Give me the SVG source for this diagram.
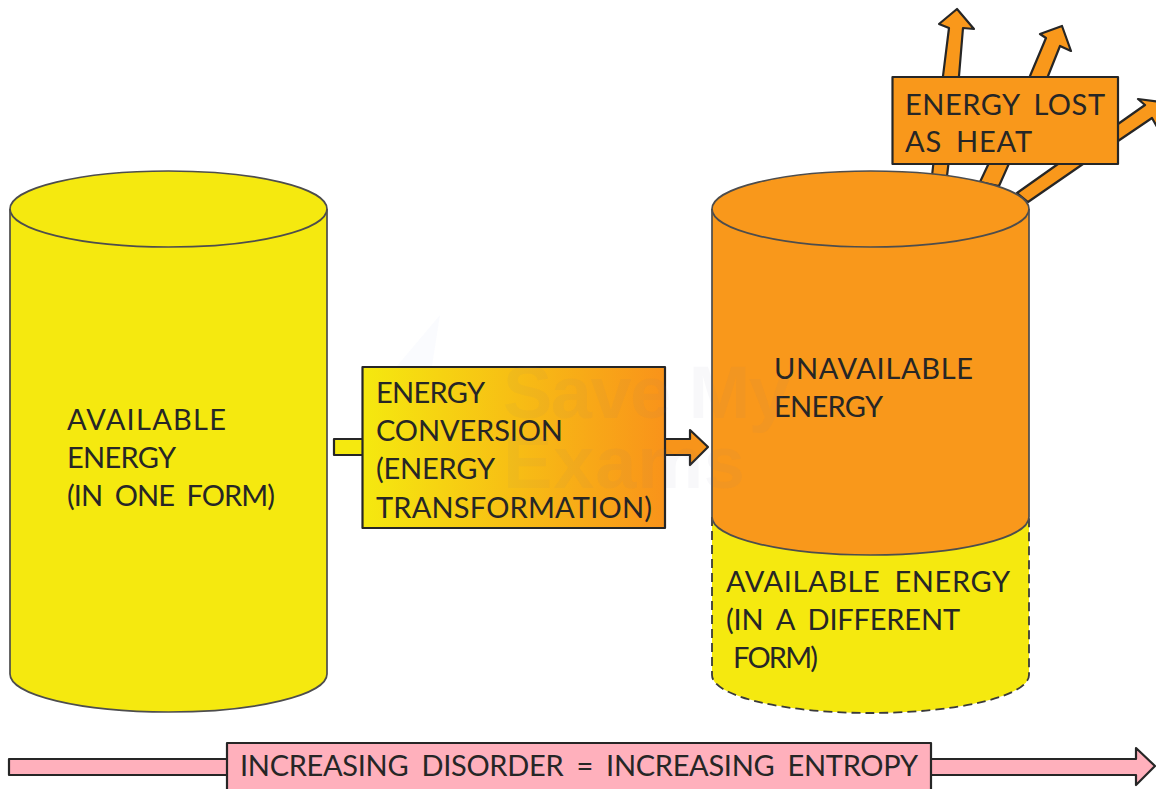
<svg xmlns="http://www.w3.org/2000/svg" width="1156" height="789" viewBox="0 0 1156 789">
<style>
.o{stroke:#262626;stroke-width:2.200;stroke-linejoin:round}
.c{stroke:#4d4d4d;stroke-width:1.700;stroke-linejoin:round}
.y{fill:#f5e90f}
.or{fill:#f9981b}
.p{fill:#ffb0bc}
.t{font-family:Lato,"Liberation Sans",sans-serif;font-size:29px;fill:#262626;word-spacing:6px}
.w{font-family:"Liberation Sans",sans-serif;font-size:74px;font-weight:700;fill:#7a7f99;fill-opacity:.05}
</style>
<defs>
<linearGradient id="conv" x1="0" y1="0" x2="1" y2="0">
<stop offset="0" stop-color="#f5e90f"/>
<stop offset="1" stop-color="#f9931a"/>
</linearGradient>
</defs>
<rect width="1156" height="789" fill="#fff"/>
<g id="connectors">
<polygon class="o or" points="932,176 943,76 949,28 939,24 957,9 974,29 963,28 959,76 947,176"/>
<polygon class="o or" points="980,182 1030,76 1046,38 1040,34 1062,26 1071,51 1060,46 1048,76 999,186"/>
<polygon class="o or" points="1017,193 1058,164 1118,124 1145,105 1138,99 1167,103 1160,132 1152,118 1118,141 1083,164 1028,202"/>
<polygon class="o y" points="334,439 364,439 364,455 334,455"/>
<polygon class="o" fill="#f7941a" points="663,439 690,439 690,430 708,447 690,465 690,455 663,455"/>
<polygon class="o p" points="9,759 230,759 230,775 9,775"/>
<polygon class="o p" points="928,759 1136,759 1136,748 1155,766 1136,785 1136,775 928,775"/>
</g>
<g id="available-energy-one-form">
<path class="c y" d="M10,209 A158.500,38 0 0 1 327,209 V674 A158.500,38 0 0 1 10,674 Z"/>
<path d="M10,209 A158.500,38 0 0 0 327,209" fill="none" class="c"/>
<text class="t" x="67" y="430" textLength="159">AVAILABLE</text>
<text class="t" x="67" y="468" textLength="109">ENERGY</text>
<text class="t" x="67" y="506" textLength="208">(IN ONE FORM)</text>
</g>
<g id="available-energy-different-form">
<path class="y" d="M712,517 H1029 V675 A158.500,38 0 0 1 712,675 Z"/>
<path d="M712,517 V675 A158.500,38 0 0 0 1029,675 V517" fill="none" stroke="#3a3a3a" stroke-width="1.800" stroke-dasharray="9 5"/>
<text class="t" x="726" y="592" textLength="284">AVAILABLE ENERGY</text>
<text class="t" x="726" y="630" textLength="234">(IN A DIFFERENT</text>
<text class="t" x="733" y="668" textLength="85">FORM)</text>
</g>
<g id="unavailable-energy">
<path class="c or" d="M712,209 A158.500,38 0 0 1 1029,209 V517 A158.500,38 0 0 1 712,517 Z"/>
<path d="M712,209 A158.500,38 0 0 0 1029,209" fill="none" class="c"/>
<text class="t" x="774" y="379" textLength="199">UNAVAILABLE</text>
<text class="t" x="774" y="417" textLength="109">ENERGY</text>
</g>
<g id="energy-conversion">
<rect class="o" x="362.500" y="367" width="302.500" height="161" fill="url(#conv)"/>
<text class="t" x="376" y="403" textLength="109">ENERGY</text>
<text class="t" x="376" y="441" textLength="187">CONVERSION</text>
<text class="t" x="376" y="479" textLength="119">(ENERGY</text>
<text class="t" x="376" y="518" textLength="276">TRANSFORMATION)</text>
</g>
<g id="energy-lost">
<rect class="o or" x="892.500" y="77" width="225.500" height="87"/>
<text class="t" x="905" y="115" textLength="200">ENERGY LOST</text>
<text class="t" x="905" y="152" textLength="127">AS HEAT</text>
</g>
<g id="entropy">
<rect class="o p" x="227" y="743" width="704" height="50"/>
<text class="t" x="240" y="776" textLength="678">INCREASING DISORDER = INCREASING ENTROPY</text>
</g>
<g id="watermark">
<polygon points="440,315 432,366 397,366" fill="#7a8fd9" fill-opacity=".035"/>
<text class="w" x="503" y="418" textLength="287">Save My</text>
<text class="w" x="503" y="488" textLength="242">Exams</text>
</g>
</svg>
